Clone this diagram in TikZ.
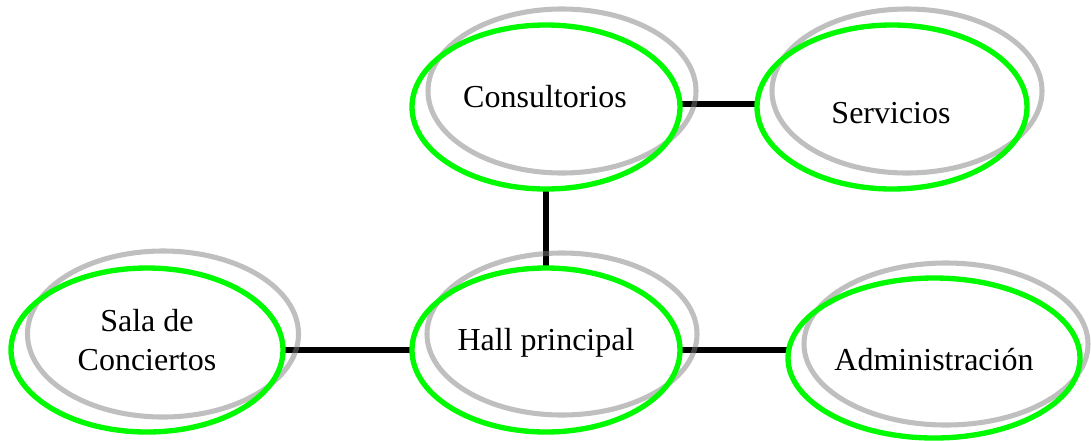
\documentclass[tikz,border=0pt]{standalone}
\usepackage{fontspec}
\setmainfont{Liberation Serif}
\usetikzlibrary{shapes.geometric}
\pgfdeclarelayer{bg}
\pgfsetlayers{bg,main}
\definecolor{ringgreen}{RGB}{0,250,0}
\tikzset{
  x=0.75pt, y=-0.75pt,
  greenring/.style={ellipse, draw=ringgreen, line width=4pt, inner sep=0pt, outer sep=0pt},
  grayring/.style={ellipse, draw=black!50, draw opacity=0.5, line width=3.8pt, inner sep=0pt, outer sep=0pt},
  link/.style={line width=4pt, black},
  lbl/.style={font=\fontsize{24}{29.25}\selectfont, inner sep=0pt, anchor=base, align=center}
}
\begin{document}
\begin{tikzpicture}
\useasboundingbox (0,0) rectangle (1091,440);
% green rings (named)
\node[greenring, minimum width=268*0.75pt, minimum height=164*0.75pt] (cons) at (546,107) {};
\node[greenring, minimum width=270*0.75pt, minimum height=164*0.75pt] (serv) at (892,107) {};
\node[greenring, minimum width=268*0.75pt, minimum height=164*0.75pt] (hall) at (546,350) {};
\node[greenring, minimum width=272*0.75pt, minimum height=164*0.75pt] (sala) at (147,350) {};
\node[greenring, minimum width=292*0.75pt, minimum height=160*0.75pt] (admin) at (934,358) {};
% labels
\node[lbl] (tcons) at (545,107) {Consultorios};
\node[lbl] (tserv) at (891,123) {Servicios};
\node[lbl] (thall) at (546,350) {Hall principal};
\node[lbl] (tsala1) at (147,331) {Sala de};
\node[lbl] (tsala2) at (147,370) {Conciertos};
\node[lbl] (tadmin) at (934,370) {Administración};
\begin{pgfonlayer}{bg}
  % connectors
  \draw[link] (sala.east) -- (hall.west);
  \draw[link] (hall.east) -- (hall.east -| admin.west);
  \draw[link] (cons.south) -- (hall.north);
  \draw[link] ([yshift=2.25pt]cons.east) -- ([yshift=2.25pt]serv.west);
  % gray shadow rings
  \node[grayring, minimum width=268*0.75pt, minimum height=164*0.75pt] (gcons) at (562,91) {};
  \node[grayring, minimum width=270*0.75pt, minimum height=164*0.75pt] (gserv) at (907,91) {};
  \node[grayring, minimum width=270*0.75pt, minimum height=162*0.75pt] (ghall) at (562,334) {};
  \node[grayring, minimum width=271*0.75pt, minimum height=166*0.75pt] (gsala) at (163,334) {};
  \node[grayring, minimum width=284*0.75pt, minimum height=162*0.75pt] (gadmin) at (946,344) {};
\end{pgfonlayer}
\end{tikzpicture}
\end{document}
